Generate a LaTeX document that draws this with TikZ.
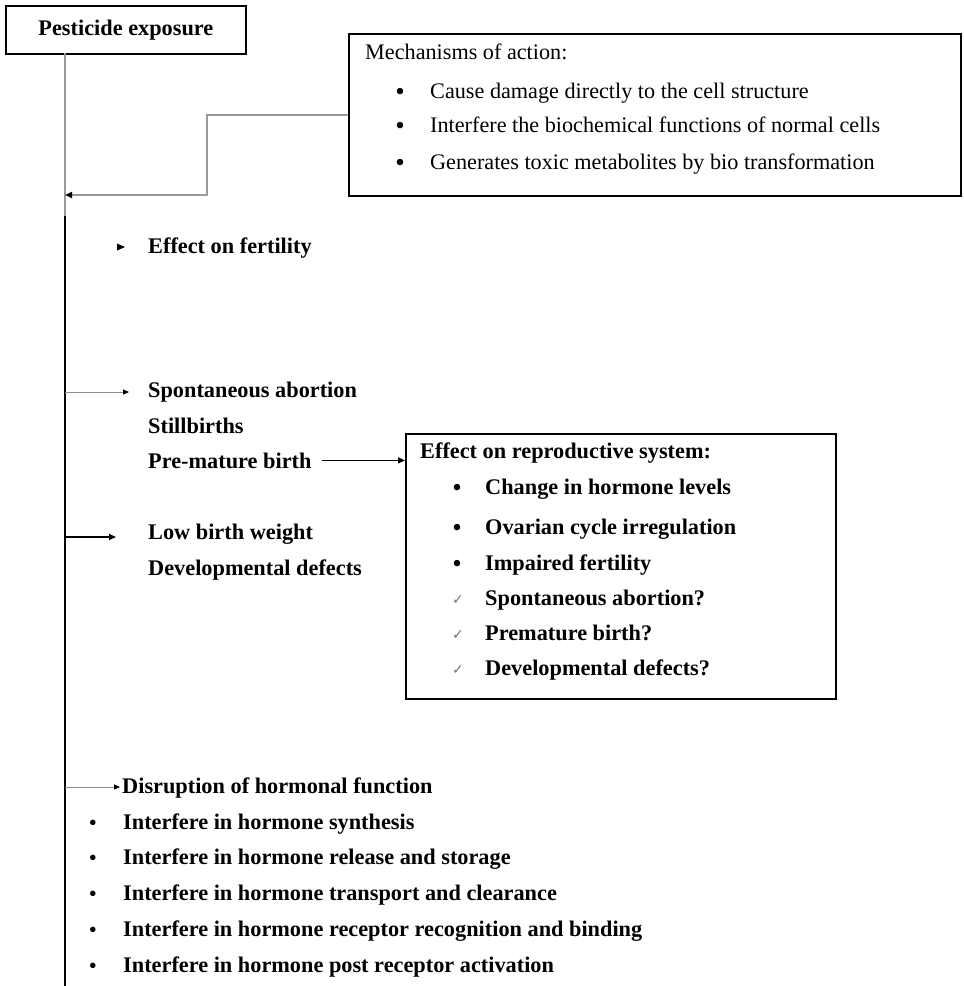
\documentclass[tikz,border=0pt]{standalone}
\usepackage{fontspec}
\setmainfont{Liberation Serif}
\newfontfamily\symfont{DejaVu Sans}
\usetikzlibrary{arrows.meta}
\newcommand\fsz[1]{\fontsize{#1}{#1}\selectfont}

\begin{document}
\begin{tikzpicture}[x=1pt,y=-1pt,
  box/.style={draw=black, line width=1.8pt, inner sep=0pt},
  spine/.style={draw=black, line width=1.8pt},
  grayline/.style={draw=black!40, line width=1.8pt},
  thinarrow/.style={draw=black!45, line width=0.9pt, -{Triangle[length=6pt,width=5pt,color=black]}},
  blackarrow/.style={draw=black, line width=1.4pt, -{Triangle[length=7pt,width=6pt]}},
  t/.style={anchor=base west, inner sep=0pt},
  bt/.style={t, font=\bfseries\fsz{22.3}},
  rt/.style={t, font=\fsz{22.2}},
  bul/.style={anchor=base, inner sep=0pt, font=\fsz{27}},
  chk/.style={anchor=base, inner sep=0pt, text=black!55, font=\symfont\fsz{14}}]
\useasboundingbox (0,0) rectangle (964,986);

% top box and mechanisms box
\node[box, anchor=north west, minimum width=240pt, minimum height=48pt,
      font=\bfseries\fsz{22.3}] (pe) at (5,5) {Pesticide exposure};
\node[box, anchor=north west, minimum width=612pt, minimum height=162pt] (mech) at (348,33) {};
\node[rt] (mt) at (365,59) {Mechanisms of action:};
\node[bul] (mb1) at (400,100) {\textbullet};
\node[bul] (mb2) at (400,134) {\textbullet};
\node[bul] (mb3) at (400,171) {\textbullet};
\node[rt] (m1) at (430,98) {Cause damage directly to the cell structure};
\node[rt] (m2) at (430,132) {Interfere the biochemical functions of normal cells};
\node[rt] (m3) at (430,169) {Generates toxic metabolites by bio transformation};

% spine coordinates
\coordinate (s0) at (65,53);
\coordinate (s1) at (65,195);
\coordinate (sg) at (65,216);
\coordinate (s2) at (65,392);
\coordinate (s3) at (65,537);
\coordinate (s4) at (65,787);
\coordinate (s5) at (65,986);

\draw[grayline] (s0) -- (sg);
\draw[spine] (sg) -- (s5);
\draw[grayline, -{Triangle[length=7pt,width=6pt,color=black]}] (mech.west) -- ++(-141,0) |- (s1);

% effect on fertility
\fill (117,243.5) -- (125,247) -- (117,250.5) -- cycle;
\node[bt] (ef) at (148,253) {Effect on fertility};

% outcomes
\draw[thinarrow] (s2) -- ++(64,0);
\node[bt] (sa) at (148,397) {Spontaneous abortion};
\node[bt] (sb) at (148,433) {Stillbirths};
\node[bt] (pm) at (148,468) {Pre-mature birth};
\draw[blackarrow, line width=1.6pt] (s3) -- ++(51,0);
\node[bt] (lb) at (148,539) {Low birth weight};
\node[bt] (dd) at (148,575) {Developmental defects};

% effect on reproductive system
\node[box, anchor=north west, minimum width=430pt, minimum height=265pt] (eff) at (405,433) {};
\draw[blackarrow, line width=1.2pt] ([xshift=10pt]pm.east) -- (pm.east -| eff.west);
\node[bt] (et0) at (420,458) {Effect on reproductive system:};
\node[bul] (eb1) at (457,496) {\textbullet};
\node[bul] (eb2) at (457,536) {\textbullet};
\node[bul] (eb3) at (457,572) {\textbullet};
\node[chk] (ec4) at (458,604) {✓};
\node[chk] (ec5) at (458,639) {✓};
\node[chk] (ec6) at (458,674) {✓};
\node[bt] (e1) at (485,494) {Change in hormone levels};
\node[bt] (e2) at (485,534) {Ovarian cycle irregulation};
\node[bt] (e3) at (485,570) {Impaired fertility};
\node[bt] (e4) at (485,605) {Spontaneous abortion?};
\node[bt] (e5) at (485,640) {Premature birth?};
\node[bt] (e6) at (485,675) {Developmental defects?};

% hormonal disruption
\draw[thinarrow] (s4) -- ++(55,0);
\node[bt] (hd) at (122,793) {Disruption of hormonal function};
\foreach \y/\n in {830/1,865/2,901/3,937/4,973/5}
  \node[bul, font=\fsz{23}] (hb\n) at (93,\y) {\textbullet};
\node[bt] (h1) at (123,829) {Interfere in hormone synthesis};
\node[bt] (h2) at (123,864) {Interfere in hormone release and storage};
\node[bt] (h3) at (123,900) {Interfere in hormone transport and clearance};
\node[bt] (h4) at (123,936) {Interfere in hormone receptor recognition and binding};
\node[bt] (h5) at (123,972) {Interfere in hormone post receptor activation};
\end{tikzpicture}
\end{document}
